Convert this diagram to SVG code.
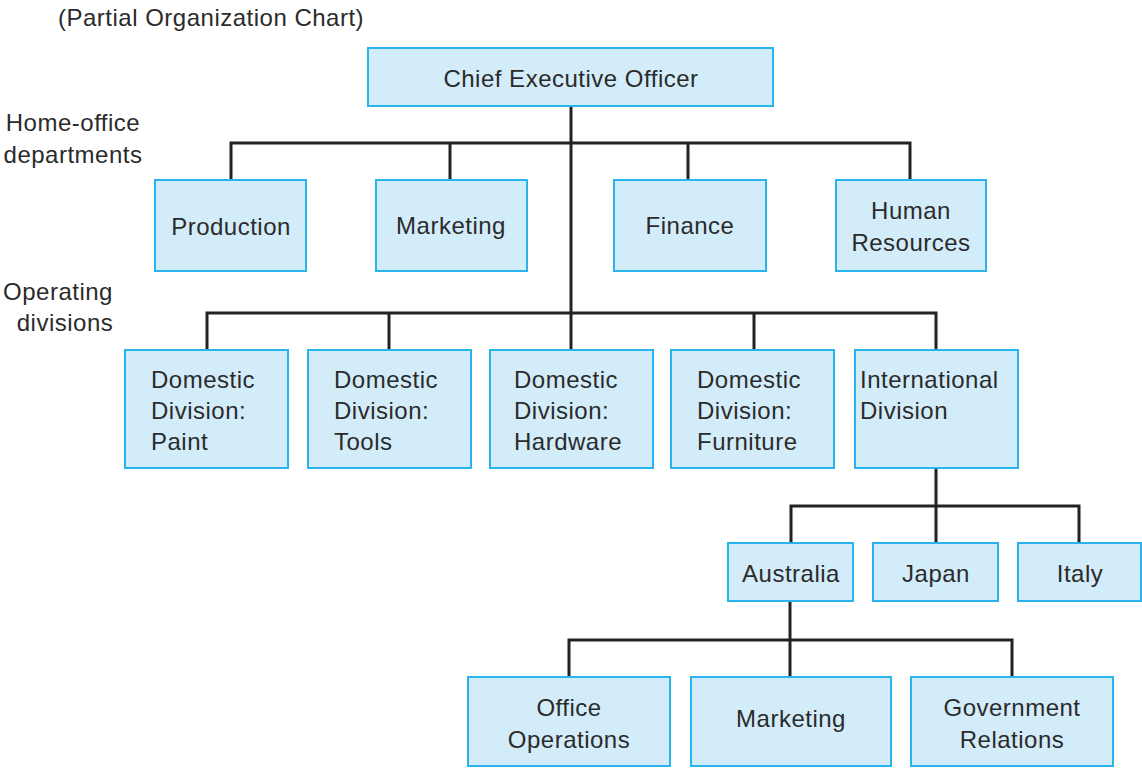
<svg xmlns="http://www.w3.org/2000/svg" width="1142" height="769" viewBox="0 0 1142 769">
<style>
.box{fill:#d3ecfa;stroke:#29b4ee;stroke-width:2}
.t{font-family:"Liberation Sans",Arial,sans-serif;font-size:24px;letter-spacing:0.5px;fill:#2b2b2b}
.c{text-anchor:middle}
.ln{fill:none;stroke:#222;stroke-width:3}
</style>
<rect width="1142" height="769" fill="#fff"/>
<g id="labels">
<text class="t" x="58" y="26">(Partial Organization Chart)</text>
<text class="t c" x="73" y="131">Home-office</text>
<text class="t c" x="73" y="163">departments</text>
<text class="t c" x="58" y="300">Operating</text>
<text class="t c" x="65" y="331">divisions</text>
</g>
<g id="connectors">
<path class="ln" d="M571 106V313M231 180V143H910V180M450 143V180M688 143V180"/>
<path class="ln" d="M207 350V313H936V350M389 313V350M754 313V350M571 313V350"/>
<path class="ln" d="M936 468V506M791 543V506H1079V543M936 506V543"/>
<path class="ln" d="M790 601V640M569 677V640H1012V677M790 640V677"/>
</g>
<g id="ceo"><rect class="box" x="368" y="48" width="405" height="58"/><text class="t c" x="571" y="87">Chief Executive Officer</text></g>
<g id="production"><rect class="box" x="155" y="180" width="151" height="91"/><text class="t c" x="231" y="235">Production</text></g>
<g id="marketing"><rect class="box" x="376" y="180" width="151" height="91"/><text class="t c" x="451" y="234">Marketing</text></g>
<g id="finance"><rect class="box" x="614" y="180" width="152" height="91"/><text class="t c" x="690" y="234">Finance</text></g>
<g id="hr"><rect class="box" x="836" y="180" width="150" height="91"/><text class="t c" x="911" y="219">Human</text><text class="t c" x="911" y="251">Resources</text></g>
<g id="paint"><rect class="box" x="125" y="350" width="163" height="118"/><text class="t" x="151" y="388">Domestic</text><text class="t" x="151" y="419">Division:</text><text class="t" x="151" y="450">Paint</text></g>
<g id="tools"><rect class="box" x="308" y="350" width="163" height="118"/><text class="t" x="334" y="388">Domestic</text><text class="t" x="334" y="419">Division:</text><text class="t" x="334" y="450">Tools</text></g>
<g id="hardware"><rect class="box" x="490" y="350" width="163" height="118"/><text class="t" x="514" y="388">Domestic</text><text class="t" x="514" y="419">Division:</text><text class="t" x="514" y="450">Hardware</text></g>
<g id="furniture"><rect class="box" x="671" y="350" width="163" height="118"/><text class="t" x="697" y="388">Domestic</text><text class="t" x="697" y="419">Division:</text><text class="t" x="697" y="450">Furniture</text></g>
<g id="international"><rect class="box" x="855" y="350" width="163" height="118"/><text class="t" x="860" y="388">International</text><text class="t" x="860" y="419">Division</text></g>
<g id="australia"><rect class="box" x="728" y="543" width="125" height="58"/><text class="t c" x="791" y="582">Australia</text></g>
<g id="japan"><rect class="box" x="873" y="543" width="125" height="58"/><text class="t c" x="936" y="582">Japan</text></g>
<g id="italy"><rect class="box" x="1018" y="543" width="123" height="58"/><text class="t c" x="1080" y="582">Italy</text></g>
<g id="office"><rect class="box" x="468" y="677" width="202" height="89"/><text class="t c" x="569" y="716">Office</text><text class="t c" x="569" y="748">Operations</text></g>
<g id="marketing2"><rect class="box" x="691" y="677" width="200" height="89"/><text class="t c" x="791" y="727">Marketing</text></g>
<g id="govrel"><rect class="box" x="911" y="677" width="202" height="89"/><text class="t c" x="1012" y="716">Government</text><text class="t c" x="1012" y="748">Relations</text></g>
</svg>
